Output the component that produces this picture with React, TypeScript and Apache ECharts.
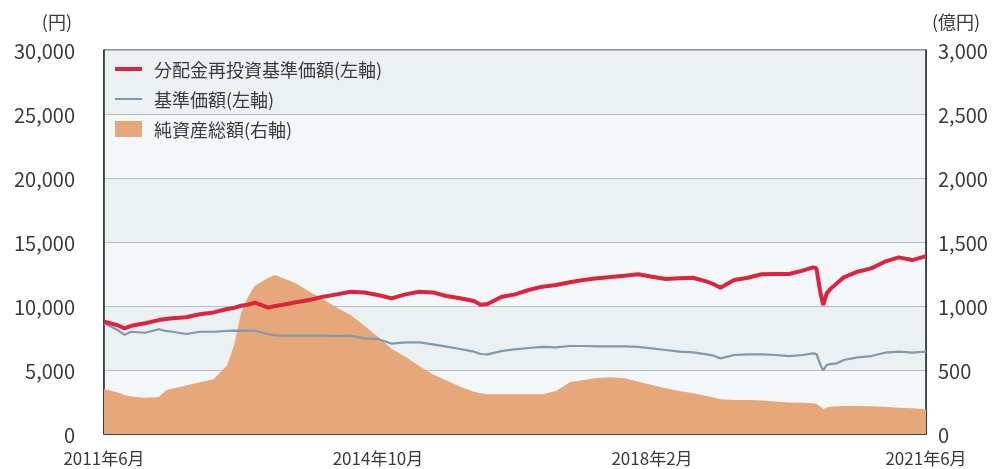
import React, { useEffect, useRef } from "react";
import * as echarts from "echarts";

// months since 2011年6月
const months = [0, 2, 3, 4, 6, 8, 9, 10, 12, 14, 16, 18, 19, 20, 21, 22, 24, 25, 26, 28, 30, 32, 34, 36, 38, 40, 42, 44, 46, 48, 50, 52, 54, 55, 56, 58, 60, 62, 64, 66, 68, 70, 72, 74, 76, 78, 80, 82, 84, 86, 88, 89, 90, 92, 94, 96, 98, 100, 102, 103.5, 104, 104.6, 105, 105.5, 106, 107, 108, 110, 112, 114, 116, 118, 120];

// 分配金再投資基準価額 (円)
const reinvestNav = [8780, 8500, 8250, 8450, 8650, 8900, 8980, 9040, 9115, 9350, 9500, 9765, 9850, 10020, 10100, 10260, 9870, 10000, 10080, 10290, 10470, 10730, 10910, 11120, 11060, 10860, 10600, 10910, 11120, 11060, 10780, 10600, 10390, 10100, 10150, 10700, 10910, 11250, 11510, 11640, 11850, 12030, 12160, 12265, 12370, 12480, 12290, 12110, 12160, 12210, 11900, 11700, 11430, 12030, 12210, 12480, 12500, 12500, 12760, 13020, 12950, 10990, 10080, 10990, 11300, 11770, 12240, 12680, 12940, 13460, 13800, 13590, 13900];

// 基準価額 (円)
const nav = [8650, 8120, 7750, 7990, 7910, 8180, 8050, 7990, 7810, 7990, 7990, 8050, 8080, 8050, 8080, 8080, 7790, 7700, 7680, 7680, 7680, 7680, 7655, 7680, 7475, 7420, 7055, 7160, 7160, 7000, 6820, 6640, 6430, 6250, 6225, 6480, 6615, 6720, 6800, 6770, 6875, 6875, 6850, 6850, 6850, 6800, 6695, 6560, 6430, 6380, 6225, 6120, 5910, 6170, 6225, 6225, 6170, 6090, 6170, 6300, 6250, 5390, 4950, 5390, 5460, 5520, 5780, 5990, 6090, 6350, 6430, 6350, 6430];

// 純資産総額 (億円)
const netAssets = [352, 325, 305, 292, 284, 290, 340, 355, 378, 404, 427, 539, 695, 943, 1068, 1159, 1221, 1242, 1221, 1177, 1112, 1052, 987, 930, 846, 760, 664, 604, 531, 466, 417, 370, 331, 318, 310, 310, 310, 310, 310, 336, 404, 422, 437, 443, 435, 409, 383, 357, 336, 318, 297, 285, 271, 266, 266, 262, 253, 247, 245, 240, 236, 215, 193, 208, 212, 216, 219, 219, 216, 212, 206, 201, 193];

const xTickMonths = [0, 40, 80, 120];
const xTickLabels = ["2011年6月", "2014年10月", "2018年2月", "2021年6月"];

const seriesNames = ["分配金再投資基準価額(左軸)", "基準価額(左軸)", "純資産総額(右軸)"];

const FONT = "'Noto Sans CJK JP', 'Noto Sans', sans-serif";
const TEXT = "#3a3a3a";
const RED = "#dc2340";
const GRAY = "#8199a8";
const ORANGE = "#e6a77b";

export default function App() {
  const ref = useRef<HTMLDivElement>(null);
  useEffect(() => {
    if (!ref.current) return;
    const chart = echarts.init(ref.current, null, { renderer: "svg" });
    const legendBase = {
      orient: "horizontal",
      left: 110,
      itemWidth: 27,
      padding: 5,
      selectedMode: false,
      icon: "rect",
      textStyle: { fontSize: 18, color: TEXT, fontFamily: FONT, lineHeight: 20, padding: [0, 0, 0, 7] },
    };
    chart.setOption({
      animation: false,
      textStyle: { fontFamily: FONT },
      grid: {
        left: 104,
        right: 77,
        top: 50,
        bottom: 35,
        show: true,
        borderColor: "#222",
        borderWidth: 1,
        backgroundColor: "transparent",
      },
      legend: [
        { ...legendBase, top: 54, itemHeight: 4, data: [{ name: seriesNames[0], icon: "rect", itemStyle: { color: RED } }] },
        { ...legendBase, top: 84, itemHeight: 2, data: [{ name: seriesNames[1], icon: "rect", itemStyle: { color: GRAY } }] },
        { ...legendBase, top: 114, itemHeight: 16, data: [{ name: seriesNames[2], icon: "rect", itemStyle: { color: ORANGE } }] },
      ],
      xAxis: {
        type: "value",
        min: 0,
        max: 120,
        interval: 40,
        axisLine: { show: true, lineStyle: { color: "#222", width: 1.5 } },
        axisTick: { show: true, inside: true, length: 5, lineStyle: { color: "#333", width: 1.5 } },
        splitLine: { show: false },
        axisLabel: {
          margin: 15,
          fontSize: 17,
          lineHeight: 17,
          color: TEXT,
          fontFamily: FONT,
          showMinLabel: true,
          showMaxLabel: true,
          formatter: (v: number) => {
            const i = xTickMonths.indexOf(Math.round(v));
            return i >= 0 ? xTickLabels[i] : "";
          },
        },
      },
      yAxis: [
        {
          type: "value",
          min: 0,
          max: 30000,
          interval: 5000,
          name: "(円)",
          nameLocation: "end",
          nameGap: 20,
          nameTextStyle: { fontSize: 18, color: TEXT, fontFamily: FONT, align: "right", padding: [0, 32, 0, 0] },
          axisLine: { show: true, lineStyle: { color: "#222", width: 1.5 } },
          axisTick: { show: false },
          axisLabel: {
            margin: 29,
            fontSize: 20,
            lineHeight: 20,
            color: TEXT,
            fontFamily: FONT,
            formatter: (v: number) => v.toLocaleString("en-US"),
          },
          splitLine: { show: true, lineStyle: { color: "#b9bdc1", width: 1 } },
          splitArea: { show: true, areaStyle: { color: ["#f4f7f9", "#ebf0f3"] } },
        },
        {
          type: "value",
          min: 0,
          max: 3000,
          interval: 500,
          name: "(億円)",
          nameLocation: "end",
          nameGap: 20,
          nameTextStyle: { fontSize: 18, color: TEXT, fontFamily: FONT, align: "left", padding: [0, 0, 0, 6] },
          axisLine: { show: true, lineStyle: { color: "#222", width: 1.5 } },
          axisTick: { show: false },
          axisLabel: {
            margin: 12,
            fontSize: 20,
            lineHeight: 20,
            color: TEXT,
            fontFamily: FONT,
            formatter: (v: number) => v.toLocaleString("en-US"),
          },
          splitLine: { show: false },
        },
      ],
      series: [
        {
          name: seriesNames[2],
          type: "line",
          yAxisIndex: 1,
          symbol: "none",
          color: ORANGE,
          itemStyle: { color: ORANGE },
          lineStyle: { width: 0, color: ORANGE },
          areaStyle: { color: ORANGE, opacity: 1 },
          z: 2,
          data: months.map((m, i) => [m, netAssets[i]]),
        },
        {
          name: seriesNames[1],
          type: "line",
          yAxisIndex: 0,
          symbol: "none",
          color: GRAY,
          itemStyle: { color: GRAY },
          lineStyle: { width: 2.2, color: GRAY },
          z: 3,
          data: months.map((m, i) => [m, nav[i]]),
        },
        {
          name: seriesNames[0],
          type: "line",
          yAxisIndex: 0,
          symbol: "none",
          color: RED,
          itemStyle: { color: RED },
          lineStyle: { width: 4, color: RED },
          z: 4,
          data: months.map((m, i) => [m, reinvestNav[i]]),
        },
      ],
    });
    return () => chart.dispose();
  }, []);
  return <div ref={ref} style={{ position: "fixed", left: 0, top: 0, width: 1003, height: 469 }} />;
}
